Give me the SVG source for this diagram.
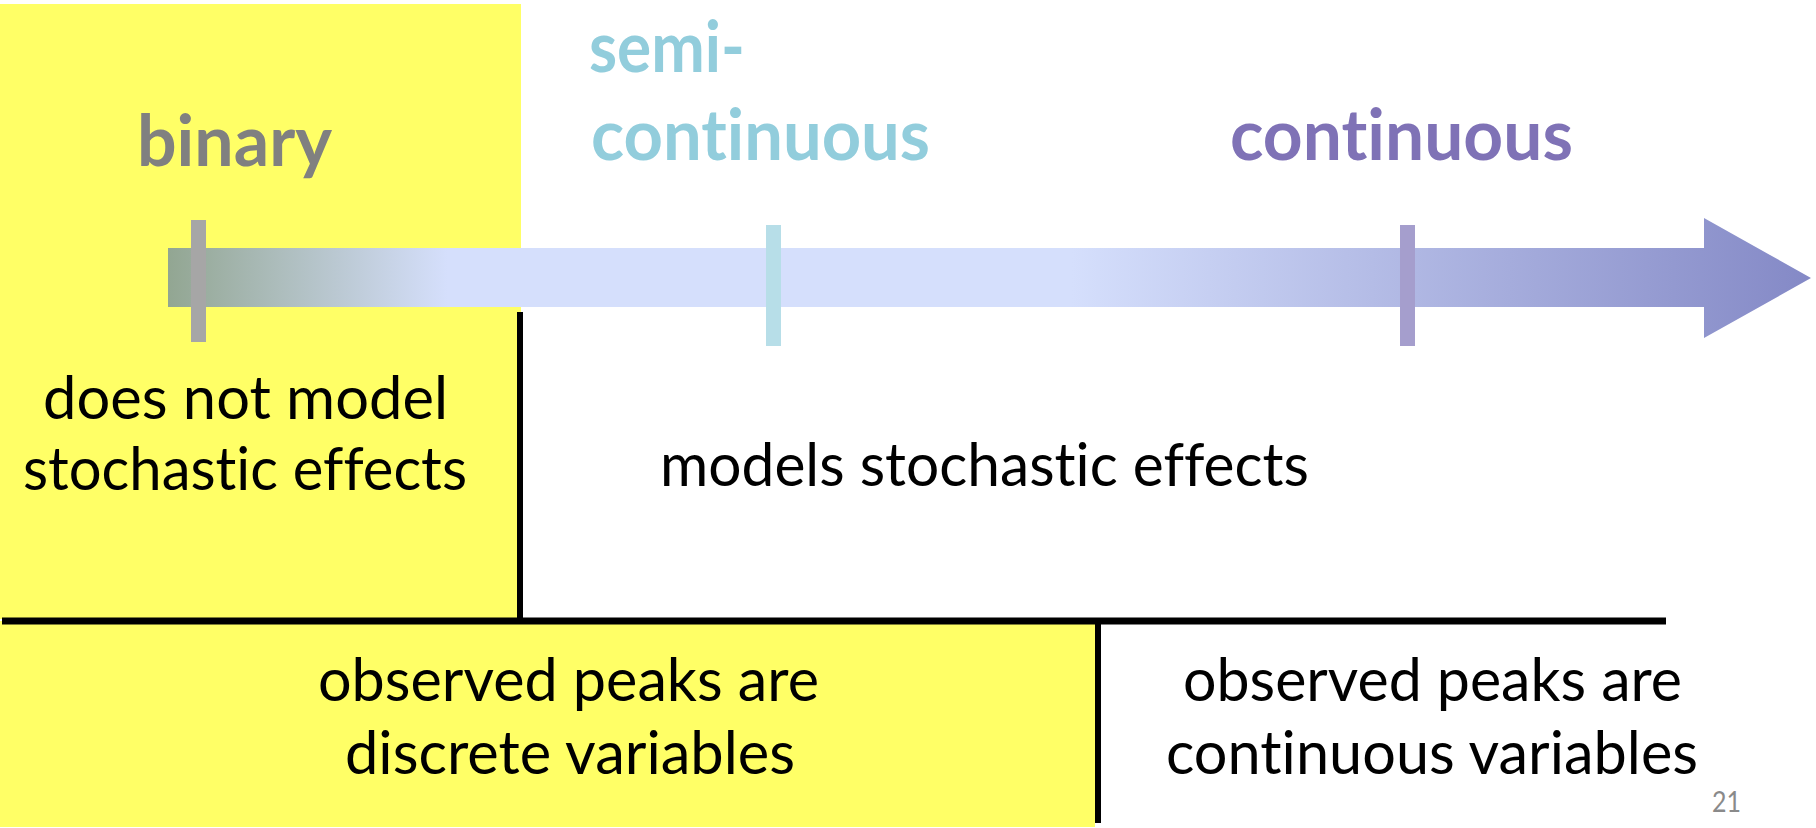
<svg xmlns="http://www.w3.org/2000/svg" width="1816" height="828" viewBox="0 0 1816 828">
<defs>
<linearGradient id="arrowGrad" gradientUnits="userSpaceOnUse" x1="168" y1="0" x2="1811" y2="0">
<stop offset="0" stop-color="#92A692"/>
<stop offset="0.17" stop-color="#D5DFFC"/>
<stop offset="0.55" stop-color="#D5DFFC"/>
<stop offset="1" stop-color="#8489C6"/>
</linearGradient>
<style>
text{font-family:Lato,"Open Sans","Liberation Sans",sans-serif;font-variant-ligatures:none;font-feature-settings:"liga" 0,"clig" 0;}
.hd{font-weight:bold;font-size:70px;}
.bd{font-size:60px;fill:#000;}
.ln{stroke:#000;fill:none;}
</style>
</defs>
<rect width="1816" height="828" fill="#FFFFFF"/>
<g id="regions">
<rect x="0" y="4" width="521" height="615" fill="#FFFF66"/>
<rect x="0" y="621" width="1095" height="206" fill="#FFFF66"/>
</g>
<g id="connectors">
<path d="M168,248 H1704 V218 L1811,278 L1704,338 V307 H168 Z" fill="url(#arrowGrad)"/>
<line class="ln" x1="520" y1="312" x2="520" y2="621" stroke-width="6"/>
<line class="ln" x1="2" y1="621" x2="1666" y2="621" stroke-width="7"/>
<line class="ln" x1="1098" y1="621" x2="1098" y2="823" stroke-width="6"/>
</g>
<g id="binary">
<rect x="191" y="220" width="15" height="122" fill="#A6A6A6"/>
<text class="hd" x="137" y="166" fill="#808080" textLength="195" lengthAdjust="spacingAndGlyphs">binary</text>
</g>
<g id="semi-continuous">
<rect x="766" y="225" width="15" height="121" fill="#B7DEE8"/>
<text class="hd" x="589" y="72" fill="#92CDDC" textLength="156" lengthAdjust="spacingAndGlyphs">semi-</text>
<text class="hd" x="591" y="160" fill="#92CDDC" textLength="339" lengthAdjust="spacingAndGlyphs">continuous</text>
</g>
<g id="continuous">
<rect x="1400" y="225" width="15" height="121" fill="#A59ECD"/>
<text class="hd" x="1230" y="160" fill="#7F72B6" textLength="343" lengthAdjust="spacingAndGlyphs">continuous</text>
</g>
<g id="no-stochastic">
<text class="bd" x="43" y="419" textLength="405" lengthAdjust="spacingAndGlyphs">does not model</text>
<text class="bd" x="23" y="490" textLength="444" lengthAdjust="spacingAndGlyphs">stochastic effects</text>
</g>
<g id="stochastic">
<text class="bd" x="660" y="486" textLength="649" lengthAdjust="spacingAndGlyphs">models stochastic effects</text>
</g>
<g id="discrete">
<text class="bd" x="318" y="701" textLength="501" lengthAdjust="spacingAndGlyphs">observed peaks are</text>
<text class="bd" x="345" y="774" textLength="450" lengthAdjust="spacingAndGlyphs">discrete variables</text>
</g>
<g id="continuous-vars">
<text class="bd" x="1183" y="701" textLength="499" lengthAdjust="spacingAndGlyphs">observed peaks are</text>
<text class="bd" x="1166" y="774" textLength="532" lengthAdjust="spacingAndGlyphs">continuous variables</text>
</g>
<g id="page-number">
<text x="1712" y="812" font-size="28" fill="#8A8A8A" textLength="29" lengthAdjust="spacingAndGlyphs">21</text>
</g>
</svg>
